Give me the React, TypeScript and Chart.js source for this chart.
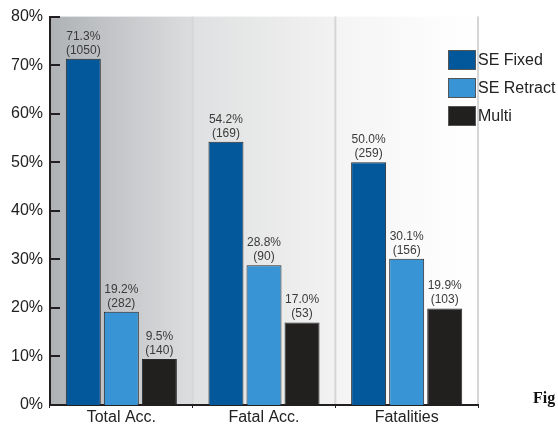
import React, { useEffect, useRef } from "react";
import { Chart, registerables } from "chart.js";

Chart.register(...registerables);

const categories = ["Total Acc.", "Fatal Acc.", "Fatalities"];
const seFixed = [71.3, 54.2, 50.0];
const seRetract = [19.2, 28.8, 30.1];
const multi = [9.5, 17.0, 19.9];
const seFixedCounts = [1050, 169, 259];
const seRetractCounts = [282, 90, 156];
const multiCounts = [140, 53, 103];
const seriesNames = ["SE Fixed", "SE Retract", "Multi"];
const seriesColors = ["#03579b", "#3894d4", "#221f1f"];
const yTicks = [0, 10, 20, 30, 40, 50, 60, 70, 80];
const bgStops = [
  ["#afb2b5", "#dcdddf"],
  ["#dfe0e1", "#f2f2f2"],
  ["#f4f4f4", "#ffffff"],
];

const FONT = "'Liberation Sans', Arial, sans-serif";

export default function App() {
  const ref = useRef<HTMLCanvasElement | null>(null);

  useEffect(() => {
    const canvas = ref.current;
    if (!canvas) return;
    const counts = [seFixedCounts, seRetractCounts, multiCounts];

    const bgPlugin = {
      id: "catBg",
      beforeDraw(chart: any) {
        const { ctx, chartArea } = chart;
        const xs = chart.scales.x;
        const n = categories.length;
        const w = (chartArea.right - chartArea.left) / n;
        ctx.save();
        for (let i = 0; i < n; i++) {
          const c = xs.getPixelForValue(i);
          const l = c - w / 2;
          const r = c + w / 2;
          const g = ctx.createLinearGradient(l, 0, r, 0);
          g.addColorStop(0, bgStops[i][0]);
          g.addColorStop(1, bgStops[i][1]);
          ctx.fillStyle = g;
          ctx.fillRect(l, chartArea.top, r - l, chartArea.bottom - chartArea.top);
        }
        ctx.strokeStyle = "#d6d6d6";
        ctx.lineWidth = 2;
        for (let i = 0; i < n; i++) {
          const r = xs.getPixelForValue(i) + w / 2;
          ctx.beginPath();
          ctx.moveTo(r, chartArea.top);
          ctx.lineTo(r, chartArea.bottom);
          ctx.stroke();
        }
        ctx.restore();
      },
      afterDraw(chart: any) {
        const { ctx, chartArea } = chart;
        const ys = chart.scales.y;
        ctx.save();
        // inner y ticks
        ctx.strokeStyle = "#231f20";
        ctx.lineWidth = 2;
        for (const t of yTicks) {
          const y = Math.round(ys.getPixelForValue(t));
          ctx.beginPath();
          ctx.moveTo(chartArea.left, y);
          ctx.lineTo(chartArea.left + 10, y);
          ctx.stroke();
        }
        // data labels
        ctx.fillStyle = "#3a3a3a";
        ctx.font = "12px " + FONT;
        ctx.textAlign = "center";
        ctx.textBaseline = "alphabetic";
        chart.data.datasets.forEach((ds: any, di: number) => {
          const meta = chart.getDatasetMeta(di);
          meta.data.forEach((bar: any, i: number) => {
            const v = ds.data[i];
            ctx.fillText(v.toFixed(1) + "%", bar.x, bar.y - 19);
            ctx.fillText("(" + counts[di][i] + ")", bar.x, bar.y - 5);
          });
        });
        // legend
        const lx = 448;
        const ly = 50;
        ctx.textAlign = "left";
        ctx.textBaseline = "middle";
        ctx.font = "16px " + FONT;
        seriesNames.forEach((name, i) => {
          const y = ly + i * 28;
          ctx.fillStyle = seriesColors[i];
          ctx.fillRect(lx, y, 28, 20);
          ctx.strokeStyle = "#555";
          ctx.lineWidth = 1;
          ctx.strokeRect(lx + 0.5, y + 0.5, 27, 19);
          ctx.fillStyle = "#222";
          ctx.fillText(name, lx + 30, y + 11);
        });
        // figure caption (cut off)
        ctx.font = "bold 16px 'Liberation Serif', 'Times New Roman', serif";
        ctx.fillStyle = "#111";
        ctx.textBaseline = "alphabetic";
        ctx.fillText("Fig", 533, 403);
        ctx.restore();
      },
    };

    const chart = new Chart(canvas, {
      type: "bar",
      data: {
        labels: categories,
        datasets: [seFixed, seRetract, multi].map((d, i) => ({
          label: seriesNames[i],
          data: d,
          backgroundColor: seriesColors[i],
          borderColor: "#2a2a2a",
          borderWidth: 1,
          borderSkipped: "bottom" as const,
          categoryPercentage: 0.8,
          barPercentage: 0.92,
        })),
      },
      options: {
        responsive: false,
        animation: false,
        devicePixelRatio: 1,
        layout: { padding: { left: 0, top: 15, right: 80, bottom: 0 } },
        plugins: {
          legend: { display: false },
          tooltip: { enabled: false },
        },
        scales: {
          x: {
            afterFit(scale: any) {
              scale.height = 22;
            },
            grid: {
              display: true,
              drawOnChartArea: false,
              offset: true,
              tickLength: 3,
              color: "#231f20",
              lineWidth: 1,
            },
            border: { display: true, color: "#231f20", width: 2 },
            ticks: {
              color: "#222",
              font: { family: FONT, size: 16 },
              padding: 0,
            },
          },
          y: {
            min: 0,
            max: 80,
            afterFit(scale: any) {
              scale.width = 50;
            },
            grid: { display: false, drawTicks: false },
            border: { display: true, color: "#231f20", width: 2 },
            ticks: {
              stepSize: 10,
              color: "#222",
              font: { family: FONT, size: 16 },
              padding: 7,
              callback: (v: any) => v + "%",
            },
          },
        },
      },
      plugins: [bgPlugin],
    });
    return () => chart.destroy();
  }, []);

  return (
    <div style={{ position: "fixed", left: 0, top: 0, width: 558, height: 427, background: "#fff" }}>
      <canvas ref={ref} width={558} height={427} style={{ display: "block" }} />
    </div>
  );
}
